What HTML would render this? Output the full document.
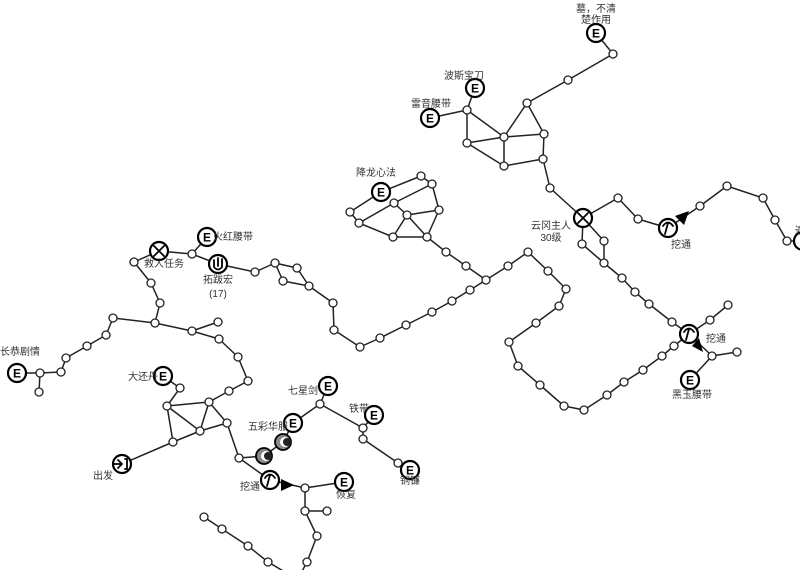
<!DOCTYPE html>
<html><head><meta charset="utf-8"><style>
html,body{margin:0;padding:0;background:#fff;}
svg{display:block}
text{font-family:"Liberation Sans","Noto Sans CJK SC",sans-serif;font-size:10px;fill:#333;}
.e{font-family:"Liberation Sans",sans-serif;font-weight:bold;font-size:12px;fill:#000;}
</style></head><body>
<svg width="800" height="570" viewBox="0 0 800 570" xmlns="http://www.w3.org/2000/svg">
<g fill="none" stroke="#222" stroke-width="1.5" stroke-linejoin="round">
<polyline points="596,33 613,54 568,80 527,103 544,134 543,159 550,188 583,218"/>
<polyline points="527,103 504,137 544,134"/>
<polyline points="504,137 504,166 543,159"/>
<polyline points="475,88 467,110 467,143 504,166"/>
<polyline points="430,118 467,110 504,137 467,143"/>
<polyline points="583,218 618,198 638,219 668,228 700,206 727,186 763,198 775,220 787,241 798,241"/>
<polyline points="583,218 582,244 604,263 604,241 583,218"/>
<polyline points="604,263 622,278 635,292 649,304 672,322 689,334 712,356 737,352"/>
<polyline points="712,356 690,380"/>
<polyline points="689,334 710,320 728,305"/>
<polyline points="689,334 674,346 662,356 643,370 624,382 607,395 584,410 564,406 540,385 518,366 509,342 536,323 559,306 566,289 548,271 528,252 508,266 486,280 466,266 446,252 427,237"/>
<polyline points="350,212 381,192 421,176 432,184 439,210 427,237 393,237 359,223 394,203 432,184"/>
<polyline points="394,203 407,215 427,237"/>
<polyline points="407,215 439,210"/>
<polyline points="407,215 393,237"/>
<polyline points="350,212 359,223"/>
<polyline points="486,280 470,290 452,301 432,312 406,325 380,338 360,347 334,330 333,303 309,286 297,268 275,263 255,272 218,264 192,254 159,251 134,262 151,283 160,303 155,323 192,331 218,322"/>
<polyline points="309,286 283,281 275,263"/>
<polyline points="192,254 207,237"/>
<polyline points="192,331 219,339 238,357 248,381 229,391 209,402"/>
<polyline points="155,323 113,318 106,335 87,346 66,358 61,372 40,373 17,373"/>
<polyline points="40,373 39,392"/>
<polyline points="209,402 167,406 200,431 209,402 227,423 200,431 173,442 167,406"/>
<polyline points="173,442 122,464"/>
<polyline points="163,376 180,388 167,406"/>
<polyline points="227,423 239,458 264,456 283,442 293,423 320,404 328,386"/>
<polyline points="320,404 363,428 374,415"/>
<polyline points="363,428 363,439 398,463 410,470"/>
<polyline points="239,458 270,480 305,488 344,482"/>
<polyline points="305,488 305,511 327,511"/>
<polyline points="305,511 317,536 307,562 300,575"/>
<polyline points="204,517 222,529 248,546 268,562 290,575"/>
</g>
<g fill="#fff" stroke="#222" stroke-width="1.3">
<circle cx="613" cy="54" r="4"/><circle cx="568" cy="80" r="4"/><circle cx="527" cy="103" r="4"/><circle cx="544" cy="134" r="4"/><circle cx="543" cy="159" r="4"/><circle cx="550" cy="188" r="4"/><circle cx="504" cy="137" r="4"/><circle cx="504" cy="166" r="4"/><circle cx="467" cy="110" r="4"/><circle cx="467" cy="143" r="4"/>
<circle cx="618" cy="198" r="4"/><circle cx="638" cy="219" r="4"/><circle cx="700" cy="206" r="4"/><circle cx="727" cy="186" r="4"/><circle cx="763" cy="198" r="4"/><circle cx="775" cy="220" r="4"/><circle cx="787" cy="241" r="4"/>
<circle cx="582" cy="244" r="4"/><circle cx="604" cy="263" r="4"/><circle cx="604" cy="241" r="4"/><circle cx="622" cy="278" r="4"/><circle cx="635" cy="292" r="4"/><circle cx="649" cy="304" r="4"/><circle cx="672" cy="322" r="4"/><circle cx="712" cy="356" r="4"/><circle cx="737" cy="352" r="4"/><circle cx="710" cy="320" r="4"/><circle cx="728" cy="305" r="4"/>
<circle cx="674" cy="346" r="4"/><circle cx="662" cy="356" r="4"/><circle cx="643" cy="370" r="4"/><circle cx="624" cy="382" r="4"/><circle cx="607" cy="395" r="4"/><circle cx="584" cy="410" r="4"/><circle cx="564" cy="406" r="4"/><circle cx="540" cy="385" r="4"/><circle cx="518" cy="366" r="4"/><circle cx="509" cy="342" r="4"/><circle cx="536" cy="323" r="4"/><circle cx="559" cy="306" r="4"/><circle cx="566" cy="289" r="4"/><circle cx="548" cy="271" r="4"/><circle cx="528" cy="252" r="4"/><circle cx="508" cy="266" r="4"/><circle cx="486" cy="280" r="4"/><circle cx="466" cy="266" r="4"/><circle cx="446" cy="252" r="4"/>
<circle cx="421" cy="176" r="4"/><circle cx="432" cy="184" r="4"/><circle cx="439" cy="210" r="4"/><circle cx="427" cy="237" r="4"/><circle cx="393" cy="237" r="4"/><circle cx="407" cy="215" r="4"/><circle cx="394" cy="203" r="4"/><circle cx="350" cy="212" r="4"/><circle cx="359" cy="223" r="4"/>
<circle cx="470" cy="290" r="4"/><circle cx="452" cy="301" r="4"/><circle cx="432" cy="312" r="4"/><circle cx="406" cy="325" r="4"/><circle cx="380" cy="338" r="4"/><circle cx="360" cy="347" r="4"/><circle cx="334" cy="330" r="4"/><circle cx="333" cy="303" r="4"/><circle cx="309" cy="286" r="4"/><circle cx="297" cy="268" r="4"/><circle cx="275" cy="263" r="4"/><circle cx="283" cy="281" r="4"/><circle cx="255" cy="272" r="4"/><circle cx="192" cy="254" r="4"/>
<circle cx="134" cy="262" r="4"/><circle cx="151" cy="283" r="4"/><circle cx="160" cy="303" r="4"/><circle cx="155" cy="323" r="4"/><circle cx="192" cy="331" r="4"/><circle cx="218" cy="322" r="4"/><circle cx="219" cy="339" r="4"/><circle cx="238" cy="357" r="4"/><circle cx="248" cy="381" r="4"/><circle cx="229" cy="391" r="4"/><circle cx="209" cy="402" r="4"/>
<circle cx="113" cy="318" r="4"/><circle cx="106" cy="335" r="4"/><circle cx="87" cy="346" r="4"/><circle cx="66" cy="358" r="4"/><circle cx="61" cy="372" r="4"/><circle cx="40" cy="373" r="4"/><circle cx="39" cy="392" r="4"/>
<circle cx="167" cy="406" r="4"/><circle cx="200" cy="431" r="4"/><circle cx="227" cy="423" r="4"/><circle cx="173" cy="442" r="4"/><circle cx="180" cy="388" r="4"/>
<circle cx="239" cy="458" r="4"/><circle cx="320" cy="404" r="4"/><circle cx="363" cy="428" r="4"/><circle cx="363" cy="439" r="4"/><circle cx="398" cy="463" r="4"/>
<circle cx="305" cy="488" r="4"/><circle cx="305" cy="511" r="4"/><circle cx="327" cy="511" r="4"/><circle cx="317" cy="536" r="4"/><circle cx="307" cy="562" r="4"/>
<circle cx="204" cy="517" r="4"/><circle cx="222" cy="529" r="4"/><circle cx="248" cy="546" r="4"/><circle cx="268" cy="562" r="4"/>
</g>
<g fill="#fff" stroke="#000" stroke-width="2.2">
<circle cx="596" cy="33" r="9"/><circle cx="475" cy="88" r="9"/><circle cx="430" cy="118" r="9"/><circle cx="381" cy="192" r="9"/><circle cx="690" cy="380" r="9"/><circle cx="207" cy="237" r="9"/><circle cx="17" cy="373" r="9"/><circle cx="163" cy="376" r="9"/><circle cx="293" cy="423" r="9"/><circle cx="328" cy="386" r="9"/><circle cx="374" cy="415" r="9"/><circle cx="410" cy="470" r="9"/><circle cx="344" cy="482" r="9"/><circle cx="803" cy="241" r="9"/>
<circle cx="583" cy="218" r="9"/><circle cx="159" cy="251" r="9"/>
<circle cx="668" cy="228" r="9"/><circle cx="689" cy="334" r="9"/><circle cx="270" cy="480" r="9"/>
<circle cx="218" cy="264" r="9"/><circle cx="122" cy="464" r="9"/>
</g>
<g class="e" text-anchor="middle">
<text class="e" x="596" y="37.5">E</text><text class="e" x="475" y="92.5">E</text><text class="e" x="430" y="122.5">E</text><text class="e" x="381" y="196.5">E</text><text class="e" x="690" y="384.5">E</text><text class="e" x="207" y="241.5">E</text><text class="e" x="17" y="377.5">E</text><text class="e" x="163" y="380.5">E</text><text class="e" x="293" y="427.5">E</text><text class="e" x="328" y="390.5">E</text><text class="e" x="374" y="419.5">E</text><text class="e" x="410" y="474.5">E</text><text class="e" x="344" y="486.5">E</text>
</g>
<g stroke="#000" stroke-width="1.8" fill="none" stroke-linecap="round">
<path d="M578,213 L588,223 M588,213 L578,223"/>
<path d="M154,246 L164,256 M164,246 L154,256"/>
<path d="M663,226 Q668,219 673,226 M668,223 L665,234"/>
<path d="M684,332 Q689,325 694,332 M689,329 L686,340"/>
<path d="M265,478 Q270,471 275,478 M270,475 L267,486"/>
<path d="M214,260 L214,267 Q218,272 222,267 L222,259 M218,258 L218,266"/>
<path d="M118,460 L122,464 L118,468 M114,464 L122,464 M125,459 L127,459 L127,469 L125,469"/>
</g>
<g stroke="#000" stroke-width="1.8">
<circle cx="264" cy="456" r="8" fill="#888"/><circle cx="283" cy="442" r="8" fill="#888"/>
</g>
<circle cx="266" cy="456" r="5" fill="#fff"/><circle cx="268" cy="456" r="4" fill="#222"/>
<circle cx="285" cy="442" r="5" fill="#fff"/><circle cx="287" cy="442" r="4" fill="#222"/>
<g fill="#000">
<polygon points="689,211 675,216 684,225"/>
<polygon points="703,352 692,346 699,338"/>
<polygon points="294,485 281,479 281,491"/>
</g>
<g>
<text x="596" y="12" text-anchor="middle">墓，不清</text>
<text x="596" y="23" text-anchor="middle">楚作用</text>
<text x="464" y="79" text-anchor="middle">波斯宝刀</text>
<text x="431" y="107" text-anchor="middle">雷音腰带</text>
<text x="376" y="176" text-anchor="middle">降龙心法</text>
<text x="551" y="229" text-anchor="middle">云冈主人</text>
<text x="551" y="241" text-anchor="middle">30级</text>
<text x="681" y="248" text-anchor="middle">挖通</text>
<text x="795" y="234">遁</text>
<text x="716" y="342" text-anchor="middle">挖通</text>
<text x="692" y="398" text-anchor="middle">黑玉腰带</text>
<text x="233" y="240" text-anchor="middle">火红腰带</text>
<text x="164" y="267" text-anchor="middle">救人任务</text>
<text x="218" y="283" text-anchor="middle">拓跋宏</text>
<text x="218" y="297" text-anchor="middle">(17)</text>
<text x="20" y="355" text-anchor="middle">长恭剧情</text>
<text x="143" y="380" text-anchor="middle">大还丹</text>
<text x="303" y="394" text-anchor="middle">七星剑</text>
<text x="268" y="430" text-anchor="middle">五彩华服</text>
<text x="359" y="412" text-anchor="middle">铁带</text>
<text x="103" y="479" text-anchor="middle">出发</text>
<text x="250" y="490" text-anchor="middle">挖通</text>
<text x="346" y="498" text-anchor="middle">恢复</text>
<text x="410" y="484" text-anchor="middle">铜镰</text>
</g>
</svg>
</body></html>
